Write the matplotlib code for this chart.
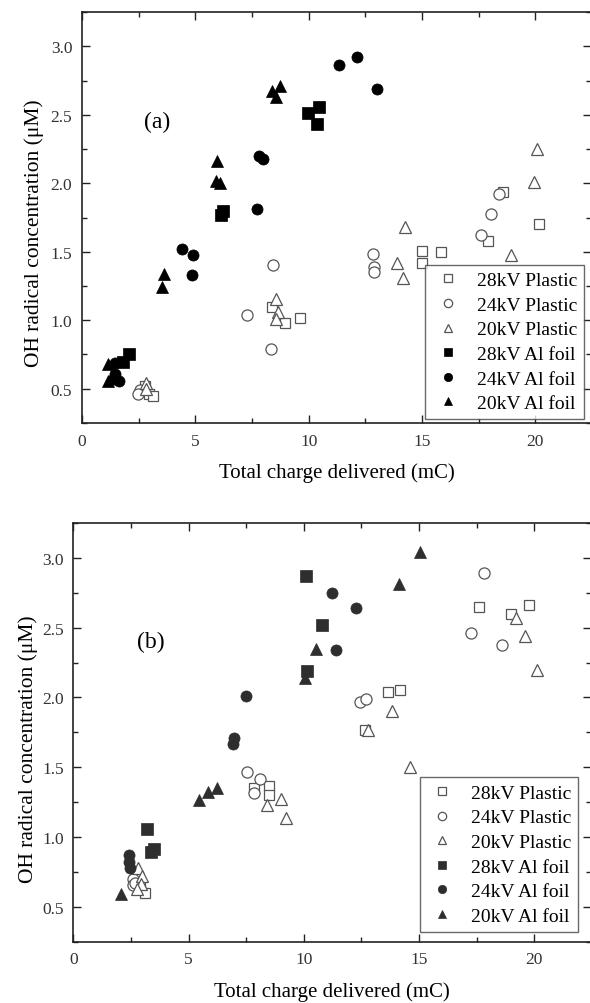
import matplotlib
matplotlib.use("Agg")
import matplotlib.pyplot as plt
from matplotlib.ticker import MultipleLocator, FormatStrFormatter

plt.rcParams['font.family'] = ['Liberation Serif', 'DejaVu Serif']

labels = ['28kV Plastic', '24kV Plastic', '20kV Plastic',
          '28kV Al foil', '24kV Al foil', '20kV Al foil']
markers = ['s', 'o', '^', 's', 'o', '^']

# panel (a): total charge (mC) and OH concentration (uM)
a_28p_x = [2.76, 2.95, 3.12, 8.39, 8.97, 9.6, 15.0, 15.84, 15.0, 17.9, 18.57, 20.15]
a_28p_y = [0.52, 0.46, 0.445, 1.10, 0.98, 1.02, 1.505, 1.50, 1.42, 1.575, 1.935, 1.70]
a_24p_x = [2.57, 2.49, 7.26, 8.44, 8.35, 12.85, 12.89, 12.89, 17.6, 18.04, 18.38]
a_24p_y = [0.488, 0.464, 1.04, 1.40, 0.79, 1.485, 1.39, 1.35, 1.624, 1.777, 1.92]
a_20p_x = [2.82, 2.83, 8.58, 8.64, 8.55, 13.9, 14.15, 14.23, 18.94, 19.94, 20.06]
a_20p_y = [0.544, 0.50, 1.157, 1.06, 1.006, 1.42, 1.31, 1.68, 1.48, 2.01, 2.25]
a_28a_x = [1.83, 2.08, 6.14, 6.22, 9.96, 10.44, 10.38]
a_28a_y = [0.695, 0.755, 1.765, 1.80, 2.515, 2.56, 2.43]
a_24a_x = [1.46, 1.46, 1.39, 1.61, 4.41, 4.88, 4.85, 7.73, 7.8, 7.98, 11.34, 12.11, 13.0]
a_24a_y = [0.69, 0.61, 0.573, 0.56, 1.517, 1.473, 1.334, 1.81, 2.20, 2.18, 2.867, 2.92, 2.69]
a_20a_x = [1.14, 1.16, 1.30, 3.6, 3.53, 5.97, 5.93, 6.1, 8.39, 8.73, 8.58]
a_20a_y = [0.68, 0.56, 0.575, 1.34, 1.24, 2.16, 2.02, 2.0, 2.67, 2.71, 2.63]

# panel (b)
b_28p_x = [2.9, 3.1, 7.83, 8.48, 8.48, 12.65, 13.67, 14.17, 17.58, 18.99, 19.76]
b_28p_y = [0.64, 0.60, 1.35, 1.366, 1.30, 1.77, 2.04, 2.055, 2.65, 2.60, 2.66]
b_24p_x = [2.6, 2.58, 2.68, 7.54, 8.12, 7.83, 12.44, 12.68, 17.25, 17.83, 18.58]
b_24p_y = [0.70, 0.655, 0.67, 1.467, 1.414, 1.316, 1.97, 1.99, 2.46, 2.89, 2.376]
b_20p_x = [2.8, 2.97, 2.95, 2.76, 8.41, 8.99, 9.23, 12.8, 13.84, 14.61, 19.2, 19.61, 20.12]
b_20p_y = [0.78, 0.72, 0.66, 0.63, 1.227, 1.275, 1.137, 1.77, 1.905, 1.503, 2.567, 2.44, 2.20]
b_28a_x = [3.19, 3.36, 3.52, 10.1, 10.8, 10.15]
b_28a_y = [1.06, 0.89, 0.915, 2.867, 2.52, 2.19]
b_24a_x = [2.4, 2.43, 2.47, 6.91, 6.95, 7.51, 11.23, 11.41, 12.25]
b_24a_y = [0.87, 0.82, 0.775, 1.663, 1.71, 2.007, 2.747, 2.34, 2.644]
b_20a_x = [2.07, 5.47, 5.83, 6.23, 10.03, 10.51, 14.13, 15.04]
b_20a_y = [0.595, 1.263, 1.32, 1.352, 2.137, 2.347, 2.81, 3.04]

panel_a = [(a_28p_x, a_28p_y), (a_24p_x, a_24p_y), (a_20p_x, a_20p_y),
           (a_28a_x, a_28a_y), (a_24a_x, a_24a_y), (a_20a_x, a_20a_y)]
panel_b = [(b_28p_x, b_28p_y), (b_24p_x, b_24p_y), (b_20p_x, b_20p_y),
           (b_28a_x, b_28a_y), (b_24a_x, b_24a_y), (b_20a_x, b_20a_y)]


def draw_panel(ax, series, fill, tag, tag_xy, leg_anchor, ylab_xy):
    for i, (xs, ys) in enumerate(series):
        if i < 3:
            ax.plot(xs, ys, ls='none', marker=markers[i], ms=8 if i != 0 else 7.5,
                    mfc='white', mec='#555555', mew=0.9, label=labels[i])
        else:
            ax.plot(xs, ys, ls='none', marker=markers[i], ms=8,
                    mfc=fill, mec=fill, mew=0.5, label=labels[i])
    ax.set_xlim(0, 22.45)
    ax.set_ylim(0.25, 3.25)
    ax.xaxis.set_major_locator(MultipleLocator(5))
    ax.xaxis.set_minor_locator(MultipleLocator(2.5))
    ax.yaxis.set_major_locator(MultipleLocator(0.5))
    ax.yaxis.set_minor_locator(MultipleLocator(0.25))
    ax.yaxis.set_major_formatter(FormatStrFormatter('%.1f'))
    ax.tick_params(which='both', direction='in', top=True, right=True,
                   width=1.0, color='#222222', labelsize=12.5, labelcolor='#333333')
    ax.tick_params(which='major', length=6, pad=7)
    ax.tick_params(which='minor', length=3.5)
    for sp in ax.spines.values():
        sp.set_linewidth(1.2)
        sp.set_color('#222222')
    ax.set_xlabel('Total charge delivered (mC)', fontsize=15, labelpad=10)
    ax.set_ylabel('OH radical concentration (μM)', fontsize=15.5)
    ax.yaxis.set_label_coords(*ylab_xy)
    ax.text(tag_xy[0], tag_xy[1], tag, fontsize=17, ha='center', va='center')
    leg = ax.legend(loc='lower right', bbox_to_anchor=leg_anchor, fontsize=14,
                    frameon=True, fancybox=False, edgecolor='#444444',
                    handlelength=1.6, handletextpad=0.7, borderpad=0.35,
                    labelspacing=0.36, markerscale=0.75, borderaxespad=0)
    leg.get_frame().set_linewidth(1.0)


fig = plt.figure(figsize=(5.9, 10.04), dpi=100)
ax_a = fig.add_axes([0.139, 0.5777, 0.8625, 0.4093])
ax_b = fig.add_axes([0.1243, 0.0611, 0.877, 0.4170])

draw_panel(ax_a, panel_a, 'black', '(a)', (3.3, 2.45), (0.9865, 0.0097), (-0.075, 0.465))
draw_panel(ax_b, panel_b, '#2e2e2e', '(b)', (3.35, 2.40), (0.976, 0.024), (-0.068, 0.4626))

fig.savefig('out.png', dpi=100)
